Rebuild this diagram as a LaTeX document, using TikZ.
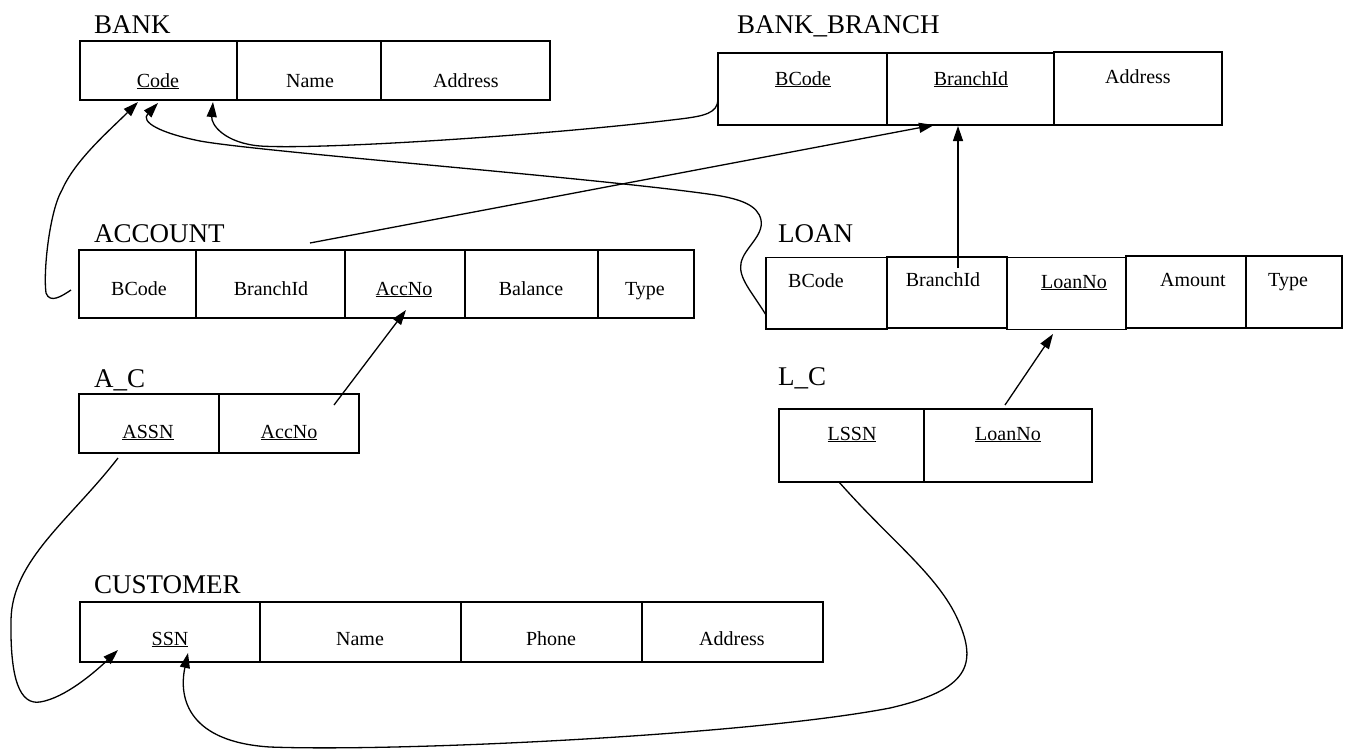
\documentclass[tikz,border=0pt]{standalone}
\usepackage{fontspec}
\setmainfont{Liberation Serif}
\usetikzlibrary{fit,arrows.meta}
\newcommand\cellfont{\fontsize{20}{24}\selectfont}
\newcommand\titlefont{\fontsize{27}{32}\selectfont}
\newcommand\rcell[5]{\node[cellbox, fit={(#2,#3) (#4,#5)}] (#1) {};}
\begin{document}
\begin{tikzpicture}[x=1pt,y=-1pt,
  cellbox/.style={draw, line width=1.6pt, inner sep=0pt},
  celltext/.style={anchor=base, font=\cellfont, inner sep=0pt},
  tabtitle/.style={anchor=base west, font=\titlefont, inner sep=0pt},
  link/.style={line width=1.3pt, -{Triangle[length=15pt,width=10pt]}}]
\useasboundingbox[fill=white] (0,0) rectangle (1347,750);

% BANK
\node[tabtitle] (bank-title) at (94,33) {BANK};
\rcell{bank-code}{80}{41}{237}{100}
\rcell{bank-name}{237}{41}{381}{100}
\rcell{bank-addr}{381}{41}{550}{100}
\node[celltext] (bank-code-t) at (158,87) {\underline{Code}};
\node[celltext] (bank-name-t) at (310,87) {Name};
\node[celltext] (bank-addr-t) at (466,87) {Address};

% BANK_BRANCH
\node[tabtitle] (bb-title) at (737,33) {BANK\_BRANCH};
\rcell{bb-bcode}{718}{53}{887}{125}
\rcell{bb-bid}{887}{53}{1054}{125}
\rcell{bb-addr}{1054}{52}{1222}{125}
\node[celltext] (bb-bcode-t) at (803,85) {\underline{BCode}};
\node[celltext] (bb-bid-t) at (971,85) {\underline{BranchId}};
\node[celltext] (bb-addr-t) at (1138,83) {Address};

% ACCOUNT
\node[tabtitle] (acc-title) at (94,242) {ACCOUNT};
\rcell{acc-bcode}{79}{250}{196}{318}
\rcell{acc-bid}{196}{250}{345}{318}
\rcell{acc-no}{345}{250}{465}{318}
\rcell{acc-bal}{465}{250}{598}{318}
\rcell{acc-type}{598}{250}{694}{318}
\node[celltext] (acc-bcode-t) at (139,295) {BCode};
\node[celltext] (acc-bid-t) at (271,295) {BranchId};
\node[celltext] (acc-no-t) at (404,295) {\underline{AccNo}};
\node[celltext] (acc-bal-t) at (531,295) {Balance};
\node[celltext] (acc-type-t) at (645,295) {Type};

% LOAN
\node[tabtitle] (loan-title) at (778,242) {LOAN};
\rcell{loan-bcode}{766}{257.3}{887}{328.7}
\rcell{loan-bid}{887}{256.7}{1007}{328}
\rcell{loan-no}{1007}{257.3}{1126}{329.3}
\rcell{loan-amt}{1126}{256}{1246}{327.7}
\rcell{loan-type}{1246}{256}{1342}{327.7}
\node[celltext] (loan-bcode-t) at (816,287) {BCode};
\node[celltext] (loan-bid-t) at (943,286) {BranchId};
\node[celltext] (loan-no-t) at (1074,288) {\underline{LoanNo}};
\node[celltext] (loan-amt-t) at (1193,286) {Amount};
\node[celltext] (loan-type-t) at (1288,286) {Type};

% A_C
\node[tabtitle] (ac-title) at (94,387) {A\_C};
\rcell{ac-assn}{79}{394}{219}{453}
\rcell{ac-accno}{219}{394}{359}{453}
\node[celltext] (ac-assn-t) at (148,438) {\underline{ASSN}};
\node[celltext] (ac-accno-t) at (289,438) {\underline{AccNo}};

% L_C
\node[tabtitle] (lc-title) at (778,385) {L\_C};
\rcell{lc-lssn}{779}{409}{924}{482}
\rcell{lc-loanno}{924}{409}{1092}{482}
\node[celltext] (lc-lssn-t) at (852,440) {\underline{LSSN}};
\node[celltext] (lc-loanno-t) at (1008,440) {\underline{LoanNo}};

% CUSTOMER
\node[tabtitle] (cust-title) at (94,593) {CUSTOMER};
\rcell{cust-ssn}{80}{602}{260}{662}
\rcell{cust-name}{260}{602}{461}{662}
\rcell{cust-phone}{461}{602}{642}{662}
\rcell{cust-addr}{642}{602}{823}{662}
\node[celltext] (cust-ssn-t) at (170,645) {\underline{SSN}};
\node[celltext] (cust-name-t) at (360,645) {Name};
\node[celltext] (cust-phone-t) at (551,645) {Phone};
\node[celltext] (cust-addr-t) at (732,645) {Address};

% connector end points
\coordinate (p-bb) at (718,100);
\coordinate (t-bank1) at (213,102);
\coordinate (p-loan) at (766,315);
\coordinate (t-bank2) at (158,103);
\coordinate (p-acc) at (71,290);
\coordinate (t-bank3) at (138,102);
\coordinate (p-acc2) at (310,243);
\coordinate (t-bb1) at (934,125);
\coordinate (p-loanbid) at (958,268);
\coordinate (t-bb2) at (958,126);
\coordinate (p-acaccno) at (334,405);
\coordinate (t-accno) at (406,310);
\coordinate (p-lcloanno) at (1005,405);
\coordinate (t-loanno) at (1053,334);
\coordinate (p-acassn) at (118,458);
\coordinate (t-ssn1) at (118,650);
\coordinate (p-lclssn) at (839,482);
\coordinate (t-ssn2) at (188,653);

% connectors
\draw[link] (p-bb) .. controls (717,113) and (705,116) .. (680,119)
  .. controls (550,135) and (320,150) .. (260,146)
  .. controls (225,143) and (211,125) .. (t-bank1);
\draw[link] (p-loan) .. controls (752,292) and (738,278) .. (741,263)
  .. controls (744,248) and (764,236) .. (761,220)
  .. controls (758,205) and (740,199) .. (715,195)
  .. controls (600,178) and (260,152) .. (200,141)
  .. controls (160,133) and (140,122) .. (t-bank2);
\draw[link] (p-acc) .. controls (62,296) and (50,304) .. (46,293)
  .. controls (43,270) and (50,210) .. (62,190)
  .. controls (75,160) and (110,130) .. (t-bank3);
\draw[link] (p-acc2) -- (t-bb1);
\draw[link] (p-loanbid) -- (t-bb2);
\draw[link] (p-acaccno) -- (t-accno);
\draw[link] (p-lcloanno) -- (t-loanno);
\draw[link] (p-acassn) .. controls (70,520) and (12,560) .. (11,620)
  .. controls (10,680) and (20,705) .. (40,702)
  .. controls (65,698) and (95,672) .. (t-ssn1);
\draw[link] (p-lclssn) .. controls (890,540) and (938,575) .. (958,620)
  .. controls (978,665) and (968,690) .. (890,708)
  .. controls (750,735) and (400,752) .. (270,747)
  .. controls (190,742) and (178,700) .. (t-ssn2);
\end{tikzpicture}
\end{document}
